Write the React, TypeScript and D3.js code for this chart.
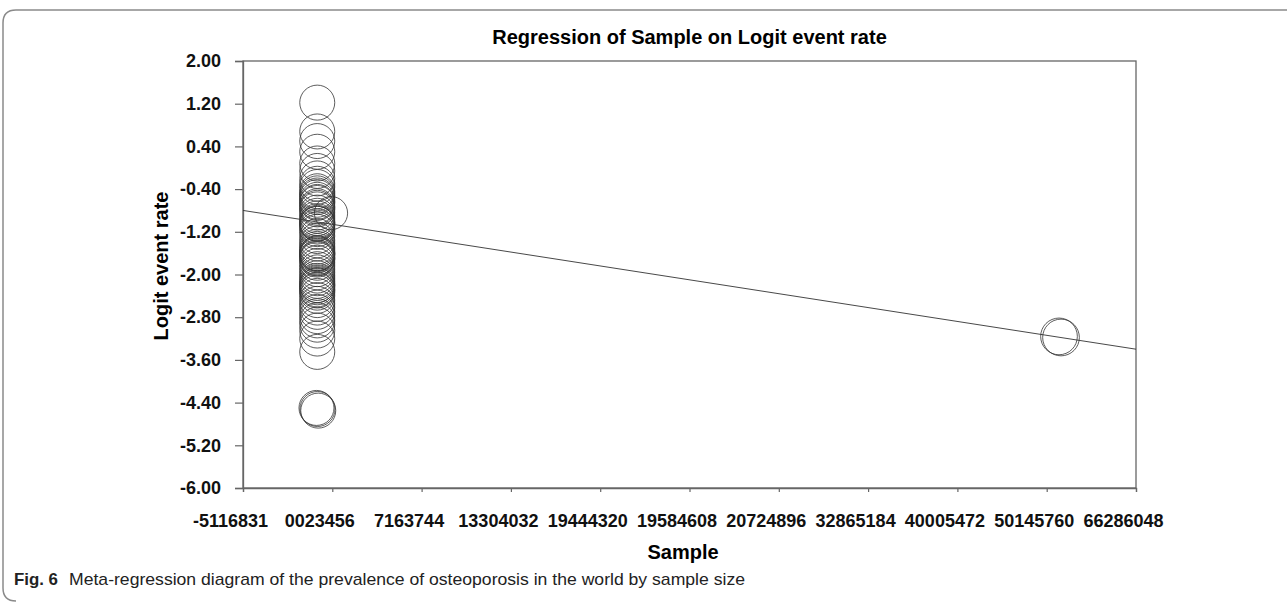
import React, { useEffect, useRef } from "react";
import * as d3 from "d3";

// tick labels as printed by the meta-analysis software
const yTicks = [2.0, 1.2, 0.4, -0.4, -1.2, -2.0, -2.8, -3.6, -4.4, -5.2, -6.0];
const xTickLabels = [
  "-5116831", "0023456", "7163744", "13304032", "19444320", "19584608",
  "20724896", "32865184", "40005472", "50145760", "66286048",
];
const xMin = -5116831;
const xMax = 66286048;

// studies: sample (x), logit event rate (y), weight (circle size)
const sampleX = [
  820000, 820000, 820000, 820000, 820000, 820000, 820000, 820000, 820000, 820000,
  820000, 820000, 820000, 820000, 820000, 820000, 820000, 820000, 820000, 820000,
  820000, 820000, 820000, 820000, 820000, 820000, 820000, 820000, 820000, 820000,
  820000, 820000, 820000, 820000, 820000, 820000, 820000, 820000, 820000, 820000,
  820000, 820000, 820000, 820000, 820000, 820000, 820000, 820000, 820000, 820000,
  820000, 820000, 820000, 820000, 820000, 820000, 820000, 820000, 820000, 820000,
  820000, 820000, 820000, 820000, 820000, 820000, 820000, 760000, 900000, 840000,
  1920000, 60130000, 60290000,
];
const logitRate = [
  1.22, 0.68, 0.5, 0.3, 0.08, -0.06, -0.2, -0.3, -0.36, -0.44,
  -0.48, -0.52, -0.55, -0.6, -0.64, -0.66, -0.72, -0.78, -0.84, -0.9,
  -0.95, -1.0, -1.03, -1.05, -1.1, -1.15, -1.2, -1.28, -1.36, -1.42,
  -1.48, -1.52, -1.56, -1.6, -1.62, -1.64, -1.68, -1.72, -1.78, -1.84,
  -1.9, -1.96, -2.02, -2.07, -2.12, -2.16, -2.2, -2.24, -2.28, -2.34,
  -2.4, -2.48, -2.55, -2.62, -2.7, -2.78, -2.86, -2.94, -3.05, -3.2,
  -3.45, -1.7, -2.2, -0.75, -1.05, -1.6, -2.3, -4.5, -4.55, -4.52,
  -0.85, -3.16, -3.18,
];
const weight = [
  1.0, 1.0, 1.0, 1.0, 1.0, 1.0, 1.0, 1.0, 1.0, 1.0,
  1.0, 1.0, 1.0, 1.0, 1.0, 1.0, 1.0, 1.0, 1.0, 1.0,
  1.0, 1.0, 1.0, 1.0, 1.0, 1.0, 1.0, 1.0, 1.0, 1.0,
  1.0, 1.0, 1.0, 1.0, 1.0, 1.0, 1.0, 1.0, 1.0, 1.0,
  1.0, 1.0, 1.0, 1.0, 1.0, 1.0, 1.0, 1.0, 1.0, 1.0,
  1.0, 1.0, 1.0, 1.0, 1.0, 1.0, 1.0, 1.0, 1.0, 1.0,
  1.0, 1.0, 1.0, 1.0, 1.0, 1.0, 1.0, 1.0, 1.0, 1.0,
  0.9, 1.1, 1.1,
];

// regression of logit event rate on sample
const intercept = -0.986;
const slope = -3.641e-8;

const W = 1287;
const H = 603;
const margin = { top: 61, right: 151, bottom: 115, left: 243 };
const font = "Liberation Sans, Arial, Helvetica, sans-serif";

const drawChart = (node: SVGSVGElement) => {
  const svg = d3.select(node);
  svg.selectAll("*").remove();

  const x = d3.scaleLinear().domain([xMin, xMax]).range([margin.left, W - margin.right]);
  const y = d3.scaleLinear().domain([-6, 2]).range([H - margin.bottom, margin.top]);
  const r = d3.scaleSqrt().domain([0, 1]).range([0, 17.5]);

  // figure frame with rounded left corners
  svg
    .append("path")
    .attr("d", `M${W},10 H16 Q3,10 3,23 V588 Q3,601 16,601`)
    .attr("fill", "none")
    .attr("stroke", "#8a8a8a")
    .attr("stroke-width", 1.5);

  // title
  svg
    .append("text")
    .attr("x", (x.range()[0] + x.range()[1]) / 2)
    .attr("y", 44)
    .attr("text-anchor", "middle")
    .attr("font-family", font)
    .attr("font-weight", "bold")
    .attr("font-size", 20)
    .text("Regression of Sample on Logit event rate");

  // plot frame
  svg
    .append("rect")
    .attr("x", x.range()[0])
    .attr("y", y.range()[1])
    .attr("width", x.range()[1] - x.range()[0])
    .attr("height", y.range()[0] - y.range()[1])
    .attr("fill", "none")
    .attr("stroke", "#666")
    .attr("stroke-width", 1.3);

  // y axis
  const yAxis = svg
    .append("g")
    .attr("transform", `translate(${x.range()[0]},0)`)
    .call(
      d3
        .axisLeft(y)
        .tickValues(yTicks)
        .tickSize(8)
        .tickPadding(14)
        .tickFormat(d => (d as number).toFixed(2))
    );
  yAxis.select(".domain").attr("stroke", "#666").attr("stroke-width", 1.3);
  yAxis.selectAll(".tick line").attr("stroke", "#666").attr("stroke-width", 1.2);
  yAxis
    .selectAll(".tick text")
    .attr("font-family", font)
    .attr("font-weight", "bold")
    .attr("font-size", 18)
    .attr("fill", "#111");

  // x axis (evenly spaced ticks, labels as printed)
  const step = (xMax - xMin) / (xTickLabels.length - 1);
  const xTickValues = xTickLabels.map((_, i) => xMin + i * step);
  const xAxis = svg
    .append("g")
    .attr("transform", `translate(0,${y.range()[0]})`)
    .call(
      d3
        .axisBottom(x)
        .tickValues(xTickValues)
        .tickSize(4)
        .tickPadding(22)
        .tickFormat((_, i) => xTickLabels[i])
    );
  xAxis.select(".domain").attr("stroke", "#666").attr("stroke-width", 1.3);
  xAxis.selectAll(".tick line").attr("stroke", "#666").attr("stroke-width", 1.2);
  xAxis
    .selectAll(".tick text")
    .attr("dx", -13)
    .attr("font-family", font)
    .attr("font-weight", "bold")
    .attr("font-size", 18)
    .attr("fill", "#111");

  // axis titles
  svg
    .append("text")
    .attr("x", 683)
    .attr("y", 559)
    .attr("text-anchor", "middle")
    .attr("font-family", font)
    .attr("font-weight", "bold")
    .attr("font-size", 20)
    .text("Sample");

  svg
    .append("text")
    .attr("transform", `translate(168,266) rotate(-90)`)
    .attr("text-anchor", "middle")
    .attr("font-family", font)
    .attr("font-weight", "bold")
    .attr("font-size", 20)
    .text("Logit event rate");

  // study circles
  const studies = logitRate.map((v, i) => ({ s: sampleX[i], v, w: weight[i] }));
  svg
    .append("g")
    .selectAll("circle")
    .data(studies)
    .enter()
    .append("circle")
    .attr("cx", d => x(d.s))
    .attr("cy", d => y(d.v))
    .attr("r", d => r(d.w))
    .attr("fill", "none")
    .attr("stroke", "#333")
    .attr("stroke-width", 0.8);

  // regression line
  const line = d3
    .line<number>()
    .x(d => x(d))
    .y(d => y(intercept + slope * d));
  svg
    .append("path")
    .attr("d", line([xMin, xMax]))
    .attr("fill", "none")
    .attr("stroke", "#333")
    .attr("stroke-width", 0.9);

  // caption
  svg
    .append("text")
    .attr("x", 14)
    .attr("y", 585)
    .attr("font-family", "Liberation Sans Narrow, Liberation Sans, sans-serif")
    .attr("font-weight", "bold")
    .attr("font-size", 17)
    .attr("fill", "#222")
    .attr("textLength", 44)
    .attr("lengthAdjust", "spacingAndGlyphs")
    .text("Fig. 6");
  svg
    .append("text")
    .attr("x", 69)
    .attr("y", 585)
    .attr("font-family", "Liberation Sans Narrow, Liberation Sans, sans-serif")
    .attr("font-size", 17)
    .attr("fill", "#222")
    .attr("textLength", 676)
    .attr("lengthAdjust", "spacingAndGlyphs")
    .text("Meta-regression diagram of the prevalence of osteoporosis in the world by sample size");
};

export default function App() {
  const ref = useRef<SVGSVGElement>(null);

  useEffect(() => {
    document.body.style.margin = "0";
    if (ref.current) drawChart(ref.current);
  }, []);

  return (
    <svg
      ref={ref}
      width={W}
      height={H}
      style={{ display: "block", background: "#fff" }}
    />
  );
}
